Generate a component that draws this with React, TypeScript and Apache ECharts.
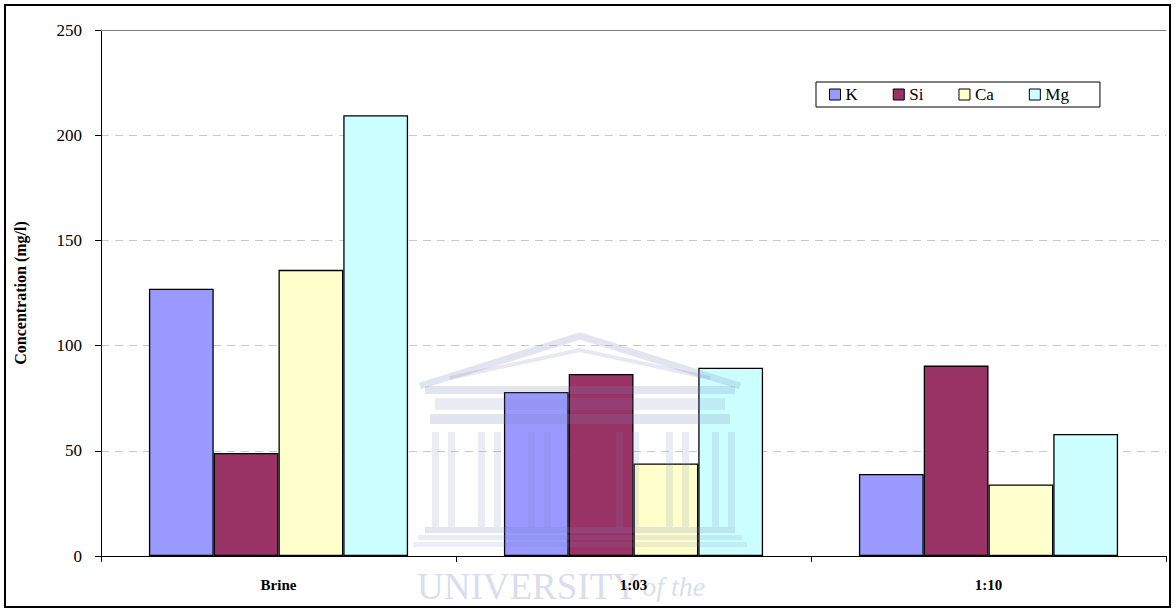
import React, { useEffect, useRef } from "react";
import * as echarts from "echarts";

const categories = ["Brine", "1:03", "1:10"];
const seriesNames = ["K", "Si", "Ca", "Mg"];
const kValues = [127, 78, 39];
const siValues = [49, 86.5, 90.5];
const caValues = [136, 44, 34];
const mgValues = [209.5, 89.5, 58];
const colors = ["#9999FF", "#993366", "#FFFFCC", "#CCFFFF"];
const yTicks = { min: 0, max: 250, interval: 50 };

const serif = "Liberation Serif";

export default function App() {
  const ref = useRef<HTMLDivElement>(null);
  useEffect(() => {
    if (!ref.current) return;
    const chart = echarts.init(ref.current, null, { renderer: "svg" });
    const data = [kValues, siValues, caValues, mgValues];
    const wm = "#7a82b8";
    const Z = 100;
    const wmEls: any[] = [
      { type: "polyline", shape: { points: [[420, 386], [580, 336], [740, 386]] }, style: { stroke: wm, lineWidth: 7, fill: "none", opacity: 0.22 } },
      { type: "polyline", shape: { points: [[450, 378], [580, 350], [710, 378]] }, style: { stroke: wm, lineWidth: 4, fill: "none", opacity: 0.18 } },
      { type: "rect", shape: { x: 425, y: 386, width: 310, height: 8 }, style: { fill: wm, opacity: 0.22 } },
      { type: "rect", shape: { x: 435, y: 398, width: 290, height: 12 }, style: { fill: wm, opacity: 0.16 } },
      { type: "rect", shape: { x: 430, y: 414, width: 300, height: 10 }, style: { fill: wm, opacity: 0.22 } },
      { type: "rect", shape: { x: 425, y: 527, width: 310, height: 6 }, style: { fill: wm, opacity: 0.2 } },
      { type: "rect", shape: { x: 418, y: 535, width: 324, height: 5 }, style: { fill: wm, opacity: 0.16 } },
      { type: "rect", shape: { x: 413, y: 542, width: 334, height: 5 }, style: { fill: wm, opacity: 0.14 } },
    ];
    const colXs = [432, 448, 478, 494, 528, 544, 616, 632, 666, 682, 712, 728];
    colXs.forEach((x) =>
      wmEls.push({ type: "rect", shape: { x, y: 432, width: 7, height: 95 }, style: { fill: wm, opacity: 0.16 } })
    );
    chart.setOption({
      animation: false,
      backgroundColor: "#ffffff",
      grid: { left: 101, right: 9, top: 30, bottom: 56, containLabel: false },
      legend: {
        data: seriesNames,
        left: 816,
        top: 82,
        orient: "horizontal",
        icon: "rect",
        itemWidth: 11,
        itemHeight: 11,
        itemGap: 35,
        padding: [4, 31, 4, 13],
        borderColor: "#000",
        borderWidth: 1,
        textStyle: { fontFamily: serif, fontSize: 17, color: "#000" },
        itemStyle: { borderColor: "#000", borderWidth: 1 },
      },
      xAxis: [
        {
          type: "category",
          data: categories,
          position: "bottom",
          z: 10,
          axisLine: { show: true, lineStyle: { color: "#000", width: 1 } },
          axisTick: { show: true, alignWithLabel: false, length: 6, lineStyle: { color: "#000" } },
          axisLabel: { fontFamily: serif, fontSize: 15, fontWeight: "bold", color: "#000", margin: 21 },
          splitLine: { show: false },
        },
        {
          type: "category",
          data: categories,
          position: "top",
          axisLine: { show: true, lineStyle: { color: "#808080", width: 1 } },
          axisTick: { show: false },
          axisLabel: { show: false },
        },
      ],
      yAxis: {
        type: "value",
        min: yTicks.min,
        max: yTicks.max,
        interval: yTicks.interval,
        name: "Concentration (mg/l)",
        nameLocation: "middle",
        nameGap: 73,
        nameRotate: 90,
        nameTextStyle: { fontFamily: serif, fontSize: 16, fontWeight: "bold", color: "#000" },
        axisLine: { show: true, lineStyle: { color: "#000", width: 1 } },
        axisTick: { show: true, length: 6, lineStyle: { color: "#000" } },
        axisLabel: { fontFamily: serif, fontSize: 17, color: "#000", margin: 19 },
        splitLine: { show: true, lineStyle: { color: "#c8c8c8", type: [8, 6], width: 1 } },
      },
      series: seriesNames.map((name, i) => ({
        name,
        type: "bar",
        xAxisIndex: 0,
        data: data[i],
        barGap: "0%",
        barCategoryGap: "27%",
        itemStyle: { color: colors[i], borderColor: "#000", borderWidth: 1.3 },
      })),
      graphic: [
        {
          type: "text",
          z: -10,
          silent: true,
          x: 417,
          y: 586,
          style: {
            text: "{a|UNIVERSITY} {b|of the}",
            verticalAlign: "middle",
            rich: {
              a: { fontFamily: serif, fontSize: 37, fill: "#dadded" },
              b: { fontFamily: serif, fontSize: 28, fontStyle: "italic", fill: "#dadded" },
            },
          },
        },
        {
          type: "rect",
          z: Z,
          shape: { x: 5, y: 5, width: 1165, height: 602 },
          style: { fill: "none", stroke: "#000", lineWidth: 2 },
        },
        ...wmEls.map((e) => ({ ...e, z: Z, silent: true })),
      ],
    });
    return () => chart.dispose();
  }, []);
  return (
    <div
      ref={ref}
      style={{ position: "fixed", left: 0, top: 0, width: 1175, height: 612, background: "#fff" }}
    />
  );
}
